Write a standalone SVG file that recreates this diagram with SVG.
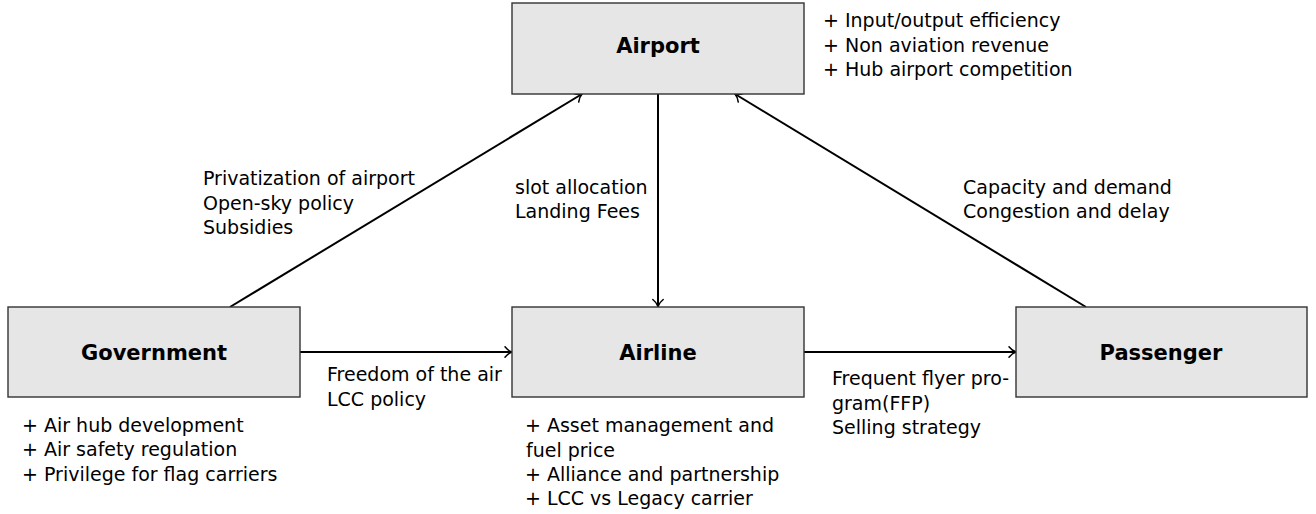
<svg xmlns="http://www.w3.org/2000/svg" width="1316" height="514" viewBox="0 0 1316 514">
  <defs>
    <marker id="arr" markerUnits="userSpaceOnUse" markerWidth="16" markerHeight="16" viewBox="-10 -8 12 16" refX="0" refY="0" orient="auto" overflow="visible">
      <path d="M-7,-5.2 C-4.8,-2.4 -1.9,-0.6 0,0 C-1.9,0.6 -4.8,2.4 -7,5.2" fill="none" stroke="#000" stroke-width="1.5" stroke-linecap="round"/>
    </marker>
    <style>
      .box { fill: #e6e6e6; stroke: #333; stroke-width: 1.4; }
      .title { font-family: "DejaVu Sans", "Liberation Sans", sans-serif; font-weight: bold; font-size: 21px; fill: #000; text-anchor: middle; }
      .lbl { font-family: "DejaVu Sans", "Liberation Sans", sans-serif; font-size: 19px; fill: #000; }
      .edge { stroke: #000; stroke-width: 2; fill: none; marker-end: url(#arr); }
    </style>
  </defs>
  <rect width="1316" height="514" fill="#fff"/>

  <g id="connectors">
    <line class="edge" x1="230" y1="307" x2="582" y2="94"/>
    <line class="edge" x1="658" y1="94" x2="658" y2="306.5"/>
    <line class="edge" x1="1086" y1="307" x2="735" y2="94"/>
    <line class="edge" x1="300" y1="352" x2="512" y2="352"/>
    <line class="edge" x1="804" y1="352" x2="1016" y2="352"/>
  </g>

  <g id="edge-labels">
    <text class="lbl" x="203" y="184.5">Privatization of airport</text>
    <text class="lbl" x="203" y="209.5">Open-sky policy</text>
    <text class="lbl" x="203" y="234">Subsidies</text>
    <text class="lbl" x="515" y="193.5">slot allocation</text>
    <text class="lbl" x="515" y="218">Landing Fees</text>
    <text class="lbl" x="963" y="193.5">Capacity and demand</text>
    <text class="lbl" x="963" y="218">Congestion and delay</text>
    <text class="lbl" x="327" y="381">Freedom of the air</text>
    <text class="lbl" x="327" y="406">LCC policy</text>
    <text class="lbl" x="832" y="384.5">Frequent flyer pro-</text>
    <text class="lbl" x="832" y="409.5">gram(FFP)</text>
    <text class="lbl" x="832" y="434">Selling strategy</text>
  </g>

  <g id="airport">
    <rect class="box" x="512" y="3" width="292" height="91"/>
    <text class="title" x="658" y="53">Airport</text>
    <text class="lbl" x="823" y="27">+ Input/output efficiency</text>
    <text class="lbl" x="823" y="51.5">+ Non aviation revenue</text>
    <text class="lbl" x="823" y="76">+ Hub airport competition</text>
  </g>

  <g id="government">
    <rect class="box" x="8" y="307" width="292" height="90"/>
    <text class="title" x="154" y="360">Government</text>
    <text class="lbl" x="22" y="431.5">+ Air hub development</text>
    <text class="lbl" x="22" y="456">+ Air safety regulation</text>
    <text class="lbl" x="22" y="481">+ Privilege for flag carriers</text>
  </g>

  <g id="airline">
    <rect class="box" x="512" y="307" width="292" height="90"/>
    <text class="title" x="658" y="360">Airline</text>
    <text class="lbl" x="525" y="431.5">+ Asset management and</text>
    <text class="lbl" x="526" y="456.5">fuel price</text>
    <text class="lbl" x="525" y="481">+ Alliance and partnership</text>
    <text class="lbl" x="525" y="505">+ LCC vs Legacy carrier</text>
  </g>

  <g id="passenger">
    <rect class="box" x="1016" y="307" width="291" height="90"/>
    <text class="title" x="1161" y="360">Passenger</text>
  </g>
</svg>
